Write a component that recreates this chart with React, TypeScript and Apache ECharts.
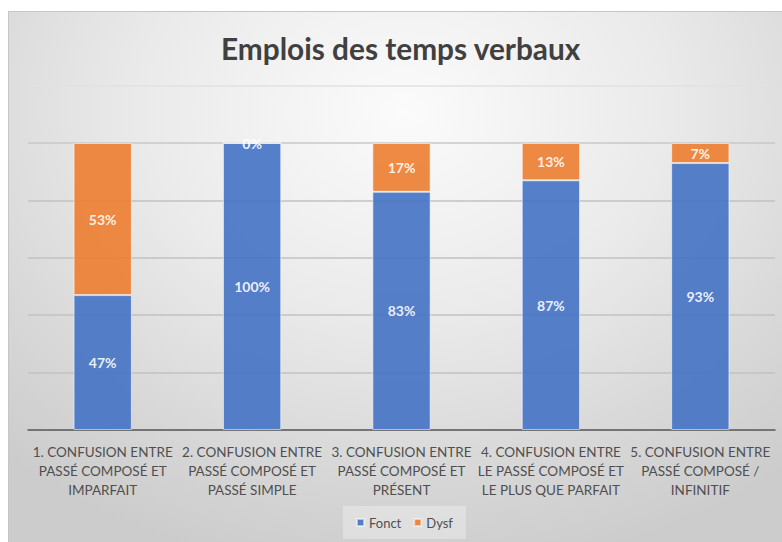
import React, { useEffect, useRef } from "react";
import * as echarts from "echarts";

const categories = [
  "1. CONFUSION ENTRE\nPASSÉ COMPOSÉ ET\nIMPARFAIT",
  "2. CONFUSION ENTRE\nPASSÉ COMPOSÉ ET\nPASSÉ SIMPLE",
  "3. CONFUSION ENTRE\nPASSÉ COMPOSÉ ET\nPRÉSENT",
  "4. CONFUSION ENTRE\nLE PASSÉ COMPOSÉ ET\nLE PLUS QUE PARFAIT",
  "5. CONFUSION ENTRE\nPASSÉ COMPOSÉ /\nINFINITIF",
];
const fonctValues = [47, 100, 83, 87, 93];
const dysfValues = [53, 0, 17, 13, 7];

const FONT = "Lato, 'Open Sans', sans-serif";

export default function App() {
  const ref = useRef<HTMLDivElement>(null);
  useEffect(() => {
    if (!ref.current) return;
    const chart = echarts.init(ref.current, null, { renderer: "svg" });
    const labelStyle = {
      show: true,
      position: "inside",
      formatter: "{c}%",
      color: "#ffffff",
      fontWeight: "bold",
      fontSize: 14,
      fontFamily: FONT,
    };
    chart.setOption({
      animation: false,
      backgroundColor: "transparent",
      title: {
        text: "Emplois des temps verbaux",
        left: 216,
        top: 28,
        textStyle: { fontSize: 29.8, fontWeight: "bold", color: "#404040", fontFamily: FONT },
      },
      legend: {
        bottom: 3,
        left: 343,
        icon: "rect",
        itemWidth: 7,
        itemHeight: 7,
        itemGap: 12,
        padding: [10, 13],
        backgroundColor: "rgba(255,255,255,0.3)",
        textStyle: { color: "#505050", fontSize: 13, fontFamily: FONT },
        data: ["Fonct", "Dysf"],
      },
      grid: { left: 28, right: 7, top: 85.6, bottom: 112, containLabel: false },
      xAxis: {
        type: "category",
        data: categories,
        axisLine: { lineStyle: { color: "#595959", width: 1.5 } },
        axisTick: { show: false },
        axisLabel: {
          color: "#4f4f4f",
          fontSize: 13.5,
          lineHeight: 19,
          margin: 12,
          fontFamily: FONT,
          interval: 0,
        },
      },
      yAxis: {
        type: "value",
        min: 0,
        max: 120,
        interval: 20,
        axisLabel: { show: false },
        axisLine: { show: false },
        axisTick: { show: false },
        splitLine: {
          lineStyle: {
            color: ["#c2c2c2", "#c2c2c2", "#c2c2c2", "#c2c2c2", "#c2c2c2", "#c8c8c8", "#e2e2e2"],
            width: 1.5,
          },
        },
      },
      series: [
        {
          name: "Fonct",
          type: "bar",
          stack: "total",
          barWidth: "39%",
          data: fonctValues,
          itemStyle: { color: "#4472C4", opacity: 0.9, borderColor: "rgba(255,255,255,0.6)", borderWidth: 1 },
          label: labelStyle,
        },
        {
          name: "Dysf",
          type: "bar",
          stack: "total",
          barWidth: "39%",
          data: dysfValues,
          itemStyle: { color: "#ED7D31", opacity: 0.9, borderColor: "rgba(255,255,255,0.6)", borderWidth: 1 },
          label: labelStyle,
        },
      ],
    });
    return () => chart.dispose();
  }, []);

  return (
    <div style={{ position: "absolute", left: 0, top: 0, width: 782, height: 542, background: "#ffffff", overflow: "hidden" }}>
      <div
        style={{
          position: "absolute",
          left: 8,
          top: 11,
          width: 790,
          height: 550,
          borderTop: "1.5px solid #c6c6c6",
          borderLeft: "1.5px solid #c6c6c6",
          background: "radial-gradient(ellipse 75% 85% at 50% 18%, #fbfbfb 0%, #eaeaea 45%, #d6d6d6 80%, #cccccc 100%)",
        }}
      />
      <div ref={ref} style={{ position: "absolute", left: 0, top: 0, width: 782, height: 542 }} />
    </div>
  );
}
